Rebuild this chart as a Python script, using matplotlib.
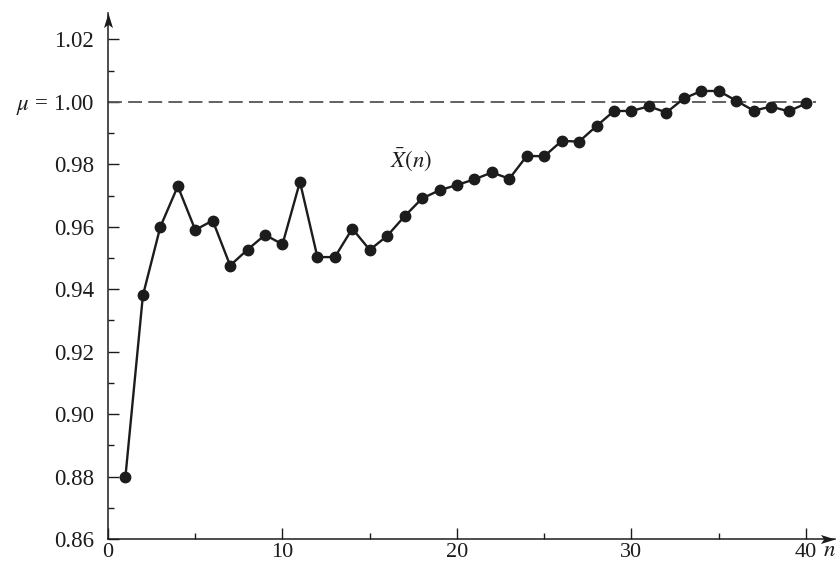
import matplotlib
matplotlib.use("Agg")
import matplotlib.pyplot as plt
from matplotlib.ticker import FixedLocator
from matplotlib.path import Path

plt.rcParams['font.family'] = ['Liberation Serif', 'DejaVu Serif']
plt.rcParams['mathtext.fontset'] = 'stix'
plt.rcParams['lines.scale_dashes'] = False

n = list(range(1, 41))
xbar = [0.880, 0.938, 0.960, 0.973, 0.959, 0.962, 0.9476, 0.9527, 0.9574, 0.9544,
        0.9744, 0.9503, 0.9503, 0.9594, 0.9526, 0.9571, 0.9634, 0.9691, 0.9717, 0.9734,
        0.9752, 0.9774, 0.9754, 0.9827, 0.9826, 0.9875, 0.9873, 0.9923, 0.9971, 0.9971,
        0.9986, 0.9966, 1.0011, 1.0035, 1.0035, 1.0004, 0.9972, 0.9985, 0.9970, 0.9995]
mu = 1.00
y_ticks = [0.86, 0.88, 0.90, 0.92, 0.94, 0.96, 0.98, 1.00, 1.02]
y_labels = ['0.86', '0.88', '0.90', '0.92', '0.94', '0.96', '0.98', r'$\mu$ = 1.00', '1.02']
y_minor = [0.87, 0.89, 0.91, 0.93, 0.95, 0.97, 0.99, 1.01]
x_ticks = [0, 10, 20, 30, 40]
x_minor = [5, 15, 25, 35]

INK = '#1c1c1c'
W, H = 837, 569
fig = plt.figure(figsize=(W / 100, H / 100), dpi=100)
left, right, bottom, top = 108, 835, 539, 13
ax = fig.add_axes([left / W, 1 - bottom / H, (right - left) / W, (bottom - top) / H])
xmax = (right - left) / 17.45
ymax = 1.00 + (102 - top) / 3125.0
ax.set_xlim(0, xmax)
ax.set_ylim(0.86, ymax)

ax.axhline(mu, xmin=0, xmax=40.6 / xmax, color='#555555', lw=1.3, ls=(0, (10, 4.5)))
ax.plot(n, xbar, color=INK, lw=1.7, marker='o', ms=7.5, mfc=INK, mec=INK,
        clip_on=False, zorder=3)

for s in ['top', 'right']:
    ax.spines[s].set_visible(False)
for s in ['left', 'bottom']:
    ax.spines[s].set_linewidth(1.1)
    ax.spines[s].set_color(INK)

arrow_r = Path([(0, 0), (-2, 0.62), (-1.55, 0), (-2, -0.62), (0, 0)],
               [Path.MOVETO, Path.LINETO, Path.LINETO, Path.LINETO, Path.CLOSEPOLY])
arrow_u = Path([(0, 0), (0.62, -2), (0, -1.55), (-0.62, -2), (0, 0)],
               [Path.MOVETO, Path.LINETO, Path.LINETO, Path.LINETO, Path.CLOSEPOLY])
ax.plot(1, 0.86, marker=arrow_r, color=INK, ms=21, mew=0,
        transform=ax.get_yaxis_transform(), clip_on=False)
ax.plot(0, 1, marker=arrow_u, color=INK, ms=21, mew=0,
        transform=ax.get_xaxis_transform(), clip_on=False)

ax.xaxis.set_major_locator(FixedLocator(x_ticks))
ax.xaxis.set_minor_locator(FixedLocator(x_minor))
ax.yaxis.set_major_locator(FixedLocator(y_ticks))
ax.set_yticklabels(y_labels)
ax.yaxis.set_minor_locator(FixedLocator(y_minor))
ax.tick_params(which='major', direction='in', length=8, width=1.0, color=INK,
               labelsize=16.5, labelcolor=INK)
ax.tick_params(which='minor', direction='in', length=4.5, width=1.0, color=INK)
ax.tick_params(axis='y', which='major', pad=10)
ax.tick_params(axis='x', which='major', pad=3, labelsize=16)

fig.text(836 / W, 1 - 556 / H, r'$n$', fontsize=16.5, color=INK, ha='right', va='baseline')
ax.text(17.35, 0.9815, r'$\bar{X}(n)$', fontsize=16.5, color=INK, ha='center', va='center')

fig.savefig('out.png', dpi=100)
